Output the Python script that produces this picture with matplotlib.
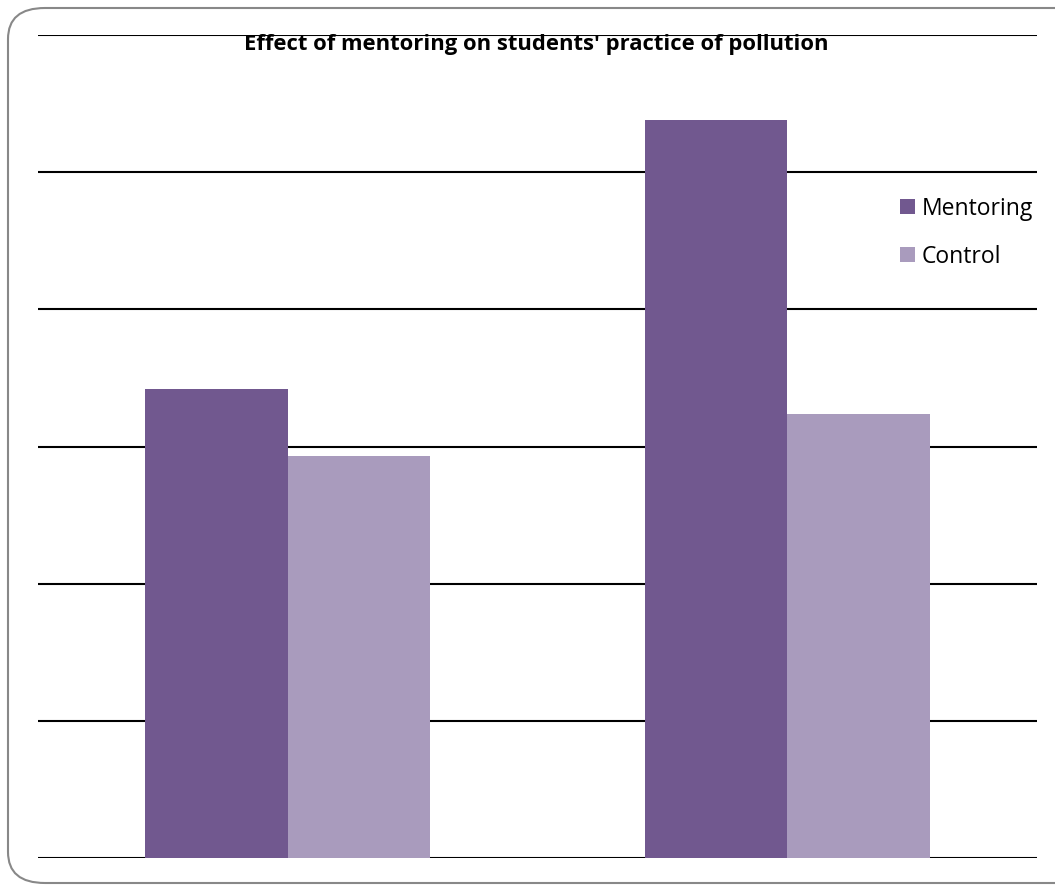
import matplotlib.pyplot as plt
from matplotlib.patches import FancyBboxPatch
import numpy as np

plt.rcParams['font.family'] = ['Open Sans', 'DejaVu Sans']

groups = ["Group 1", "Group 2"]
mentoring = [3.42, 5.38]
control = [2.93, 3.24]

fig = plt.figure(figsize=(10.55, 8.86), dpi=100)
W, H = 1055, 886

# rounded chart border
border = FancyBboxPatch((8 / W, 3 / H), 1.1, (881 - 6) / H,
                        boxstyle="round,pad=0,rounding_size=0.035",
                        transform=fig.transFigure, fill=False,
                        edgecolor="#888888", linewidth=1.5)
fig.patches.append(border)

ax = fig.add_axes([38 / W, (H - 858) / H, (1037 - 38) / W, (858 - 35) / H])

x = np.arange(len(groups))
w = 0.285
ax.bar(x - w / 2, mentoring, w, color="#71588F", label="Mentoring", zorder=3)
ax.bar(x + w / 2, control, w, color="#A99BBD", label="Control", zorder=3)

ax.set_xlim(-0.5, 1.5)
ax.set_ylim(0, 6)
ax.set_yticks(range(0, 7))
ax.yaxis.grid(True, color="black", linewidth=1.5)
ax.tick_params(left=False, bottom=False, labelleft=False, labelbottom=False)
for s in ax.spines.values():
    s.set_visible(False)

fig.text(536 / W, 1 - 50 / H, "Effect of mentoring on students' practice of pollution",
         ha="center", va="baseline", fontsize=15.8, fontweight="bold", zorder=5)

ax.legend(loc="upper left", bbox_to_anchor=(841 / (1037 - 38), 1 - (176 - 35) / (858 - 35)),
          frameon=False, fontsize=16.5, handlelength=0.65, handleheight=0.65,
          handletextpad=0.3, labelspacing=1.05)

fig.savefig("out.png", dpi=100)
